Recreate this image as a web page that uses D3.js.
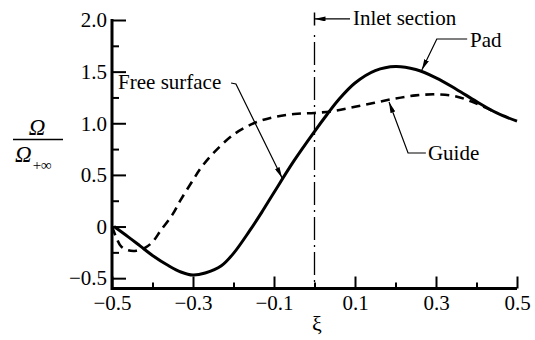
<!DOCTYPE html>
<html>
<head>
<meta charset="UTF-8">
<title></title>
<script src="https://d3js.org/d3.v7.min.js"></script>
<style>
  body { margin: 0; background: #fff; }
  text { font-family: "Liberation Serif", "Times New Roman", serif; fill: #000; }
</style>
</head>
<body>
<div id="chart"></div>
<script>
// data
const padX = [-0.495, -0.46, -0.43, -0.4, -0.36, -0.33, -0.3, -0.27, -0.23, -0.2, -0.16, -0.13, -0.1, -0.05, 0, 0.03, 0.06, 0.1, 0.15, 0.2, 0.25, 0.3, 0.35, 0.4, 0.45, 0.5]
const pad = [0, -0.10, -0.19, -0.28, -0.38, -0.44, -0.47, -0.45, -0.38, -0.26, -0.04, 0.14, 0.33, 0.64, 0.92, 1.08, 1.23, 1.39, 1.51, 1.55, 1.52, 1.44, 1.33, 1.21, 1.10, 1.02]
const guideX = [-0.5, -0.49, -0.477, -0.46, -0.44, -0.42, -0.4, -0.38, -0.35, -0.33, -0.3, -0.28, -0.25, -0.2, -0.15, -0.1, -0.05, 0, 0.05, 0.1, 0.15, 0.2, 0.25, 0.3, 0.35, 0.4, 0.45]
const guide = [0, -0.10, -0.195, -0.23, -0.235, -0.21, -0.15, -0.04, 0.12, 0.26, 0.45, 0.57, 0.71, 0.89, 1.00, 1.06, 1.09, 1.10, 1.12, 1.16, 1.20, 1.24, 1.27, 1.28, 1.26, 1.19, 1.10]

const xTicks = [-0.5, -0.3, -0.1, 0.1, 0.3, 0.5]
const xMinor = [-0.4, -0.2, 0, 0.2, 0.4]
const yTicks = [-0.5, 0, 0.5, 1.0, 1.5, 2.0]
const yMinor = [-0.25, 0.25, 0.75, 1.25, 1.75]
const yLabels = ['\u22120.5', '0', '0.5', '1.0', '1.5', '2.0']
const xLabels = ['\u22120.5', '\u22120.3', '\u22120.1', '0.1', '0.3', '0.5']

const svg = d3.select('#chart').append('svg').attr('width', 535).attr('height', 340)

const x = d3.scaleLinear().domain([-0.5, 0.5]).range([112, 517])
const y = d3.scaleLinear().domain([-0.6, 2.0]).range([288.5, 20])

// arrow marker
svg.append('defs').append('marker')
  .attr('id', 'arr').attr('markerUnits', 'userSpaceOnUse')
  .attr('viewBox', '0 0 11 5').attr('refX', 11).attr('refY', 2.5)
  .attr('markerWidth', 11).attr('markerHeight', 5).attr('orient', 'auto')
  .append('path').attr('d', 'M0,0 L11,2.5 L0,5 Z').attr('fill', '#000')

// axes
const yAxis = d3.axisLeft(y).tickValues(yTicks).tickSizeInner(-14).tickSizeOuter(0).tickPadding(5)
  .tickFormat((d, i) => yLabels[i])
const gy = svg.append('g').attr('transform', 'translate(112,0)').call(yAxis)
const gym = svg.append('g').attr('transform', 'translate(112,0)')
  .call(d3.axisLeft(y).tickValues(yMinor).tickSizeInner(-7).tickSizeOuter(0).tickFormat(''))

const xAxis = d3.axisBottom(x).tickValues(xTicks).tickSizeInner(-12).tickSizeOuter(0).tickPadding(7)
  .tickFormat((d, i) => xLabels[i])
const gx = svg.append('g').attr('transform', 'translate(0,288.5)').call(xAxis)
const gxm = svg.append('g').attr('transform', 'translate(0,288.5)')
  .call(d3.axisBottom(x).tickValues(xMinor).tickSizeInner(-6).tickSizeOuter(0).tickFormat(''))

svg.selectAll('.domain').remove()
svg.selectAll('.tick line').attr('stroke', '#000').attr('stroke-width', 2)
svg.selectAll('.tick text').style('font-size', '21px')
gx.selectAll('.tick text').attr('dy', '0.71em')

svg.append('path')
  .attr('d', `M${x(-0.5)},${y(2.0) - 1}V${y(-0.6)}H${x(0.5)}`)
  .attr('fill', 'none').attr('stroke', '#000').attr('stroke-width', 3)

// inlet section line
svg.append('line').attr('x1', x(0)).attr('x2', x(0)).attr('y1', 12.5).attr('y2', 25.5)
  .attr('stroke', '#000').attr('stroke-width', 1.5)
svg.append('line').attr('x1', x(0)).attr('x2', x(0)).attr('y1', 35).attr('y2', y(-0.6))
  .attr('stroke', '#000').attr('stroke-width', 1.3).attr('stroke-dasharray', '2,5,23,5')

// curves
const line = d3.line().x(d => x(d[0])).y(d => y(d[1])).curve(d3.curveCatmullRom)
svg.append('path').datum(guideX.map((v, i) => [v, guide[i]]))
  .attr('d', line).attr('fill', 'none').attr('stroke', '#000').attr('stroke-width', 2.6)
  .attr('stroke-dasharray', '9,6')
svg.append('path').datum(padX.map((v, i) => [v, pad[i]]))
  .attr('d', line).attr('fill', 'none').attr('stroke', '#000').attr('stroke-width', 3)

// annotations
function leader(pts) {
  svg.append('path')
    .attr('d', d3.line()(pts.map(p => [x(p[0]), y(p[1])])))
    .attr('fill', 'none').attr('stroke', '#000').attr('stroke-width', 1.2)
    .attr('marker-end', 'url(#arr)')
}
leader([[0.0877, 2.01], [0, 2.01]])
leader([[0.377, 1.816], [0.302, 1.816], [0.265, 1.516]])
leader([[0.275, 0.712], [0.231, 0.712], [0.184, 1.206]])
leader([[-0.206, 1.39], [-0.194, 1.38], [-0.080, 0.47]])

const notes = [
  ['Inlet section', 0.095, 1.952],
  ['Pad', 0.384, 1.738],
  ['Guide', 0.280, 0.644],
  ['Free surface', -0.485, 1.332]
]
svg.selectAll('.note').data(notes).enter().append('text')
  .attr('x', d => x(d[1])).attr('y', d => y(d[2]))
  .style('font-size', '21px').text(d => d[0])

// axis titles
svg.append('text').attr('x', 37).attr('y', 135).attr('text-anchor', 'middle')
  .style('font-size', '23px').style('font-style', 'italic').text('\u03A9')
svg.append('line').attr('x1', 13).attr('x2', 63).attr('y1', 139.5).attr('y2', 139.5)
  .attr('stroke', '#000').attr('stroke-width', 1.3)
const den = svg.append('text').attr('x', 15).attr('y', 162).style('font-size', '23px')
den.append('tspan').style('font-style', 'italic').text('\u03A9')
den.append('tspan').attr('dy', 8).attr('dx', 1).style('font-size', '15px').text('+\u221E')

svg.append('text').attr('x', 317).attr('y', 331).attr('text-anchor', 'middle')
  .style('font-size', '22px').text('\u03BE')
</script>
</body>
</html>
